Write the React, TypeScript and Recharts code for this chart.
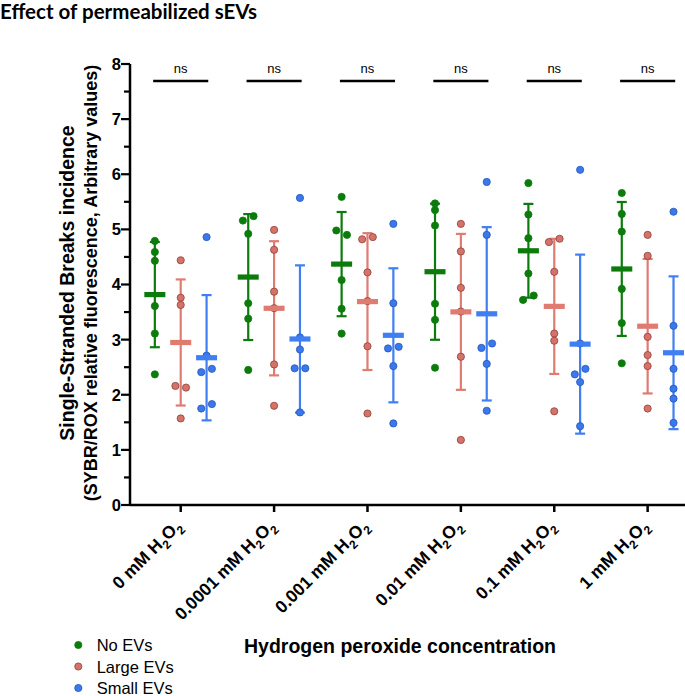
import { ComposedChart, Scatter, XAxis, YAxis, ErrorBar, ReferenceLine } from 'recharts';

// H2O2 doses (mM), one group per dose
const doses = ['0', '0.0001', '0.001', '0.01', '0.1', '1'];

// replicate values per dose
const noEVs = [
  [4.79, 4.59, 4.43, 3.61, 3.11, 2.37],
  [5.16, 5.24, 4.92, 3.66, 3.38, 2.45],
  [5.59, 4.98, 4.9, 4.08, 3.56, 3.11],
  [5.47, 5.35, 5.07, 3.65, 3.36, 2.49],
  [5.84, 5.27, 4.84, 4.2, 3.72, 3.8],
  [5.66, 5.28, 4.96, 3.92, 3.3, 2.57],
];
const largeEVs = [
  [4.44, 3.76, 3.63, 2.16, 2.13, 1.57],
  [4.99, 4.63, 3.87, 3.57, 2.55, 1.8],
  [4.82, 4.86, 4.22, 3.7, 2.88, 1.66],
  [5.1, 4.6, 3.94, 3.51, 2.69, 1.18],
  [4.77, 4.83, 4.23, 3.11, 2.98, 1.7],
  [4.9, 4.52, 3.05, 2.72, 2.52, 1.75],
];
const smallEVs = [
  [4.86, 2.71, 2.41, 2.47, 1.75, 1.83],
  [5.57, 3.04, 2.82, 2.48, 2.48, 1.68],
  [5.1, 3.66, 2.84, 2.87, 2.52, 1.48],
  [5.86, 4.9, 2.85, 2.93, 2.56, 1.71],
  [6.08, 2.93, 2.37, 2.47, 2.23, 1.43],
  [5.32, 3.25, 2.47, 2.11, 1.93, 1.49],
];

const yTicks = [0, 0.5, 1, 1.5, 2, 2.5, 3, 3.5, 4, 4.5, 5, 5.5, 6, 6.5, 7, 7.5, 8];
const nsLevel = 7.69;
const nsTextLevel = 7.84;

const FONT = '"Liberation Sans", Arial, sans-serif';

const series = [
  { name: 'No EVs', values: noEVs, shift: -0.277, color: '#0b7b0b', dot: '#0b7b0b', edge: '#0b7b0b' },
  { name: 'Large EVs', values: largeEVs, shift: 0, color: '#e07b72', dot: '#d5736a', edge: '#8e4039' },
  { name: 'Small EVs', values: smallEVs, shift: 0.277, color: '#3f7ff2', dot: '#3a78ee', edge: '#2656b8' },
];

// side-by-side offsets for dots that would overlap
function spread(vals: number[]) {
  const order = vals.map((v, i) => i).sort((a, b) => vals[a] - vals[b]);
  const offs = new Array(vals.length).fill(0) as number[];
  let cluster: number[] = [order[0]];
  const flush = () => {
    const c = [...cluster].sort((a, b) => a - b);
    c.forEach((idx, j) => {
      offs[idx] = (j - (c.length - 1) / 2) * 0.114;
    });
  };
  for (let k = 1; k < order.length; k++) {
    if (Math.abs(vals[order[k]] - vals[order[k - 1]]) < 0.11) cluster.push(order[k]);
    else {
      flush();
      cluster = [order[k]];
    }
  }
  flush();
  return offs;
}

const mean = (a: number[]) => a.reduce((s, v) => s + v, 0) / a.length;
const sd = (a: number[]) => {
  const m = mean(a);
  return Math.sqrt(a.reduce((s, v) => s + (v - m) ** 2, 0) / (a.length - 1));
};

const built = series.map((s) => ({
  ...s,
  points: s.values.flatMap((vals, i) => {
    const offs = spread(vals);
    return vals.map((v, j) => ({ x: i + s.shift + offs[j], y: v }));
  }),
  stats: s.values.map((vals, i) => ({ x: i + s.shift, y: mean(vals), sd: sd(vals) })),
}));

const nsMarks = doses.map((_, i) => ({ x: i, y: nsTextLevel }));

function XTick(props: any) {
  const { x, y, payload } = props;
  const dose = doses[payload.value];
  return (
    <text
      transform={`translate(${x + 2},${y + 15}) rotate(-45)`}
      textAnchor="end"
      fontFamily={FONT}
      fontWeight="bold"
      fontSize={17.5}
      fill="#000"
    >
      {`${dose} mM H`}
      <tspan dy={5} fontSize={12}>2</tspan>
      <tspan dy={-5}>O</tspan>
      <tspan dy={5} fontSize={12}>2</tspan>
    </text>
  );
}

function YTick(props: any) {
  const { x, y, payload } = props;
  const v = payload.value as number;
  const major = Number.isInteger(v);
  return (
    <g>
      <line x1={x} x2={x - (major ? 9 : 6)} y1={y} y2={y} stroke="#000" strokeWidth={2.2} />
      {major && (
        <text x={x - 9} y={y} dy="0.36em" textAnchor="end" fontFamily={FONT} fontWeight="bold" fontSize={16.5} fill="#000">
          {v}
        </text>
      )}
    </g>
  );
}

export default function App() {
  return (
    <div style={{ position: 'absolute', left: 0, top: 0, width: 685, height: 696, background: '#fff' }}>
      <ComposedChart width={685} height={696} margin={{ top: 64, right: 0, bottom: 91, left: 0 }}>
        <XAxis
          type="number"
          dataKey="x"
          domain={[-0.543, 5.4]}
          allowDataOverflow
          ticks={[0, 1, 2, 3, 4, 5]}
          interval={0}
          height={100}
          tickSize={7}
          tickMargin={0}
          tickLine={{ stroke: '#000', strokeWidth: 2.5 }}
          axisLine={{ stroke: '#000', strokeWidth: 2.5 }}
          tick={<XTick />}
        />
        <YAxis
          type="number"
          dataKey="y"
          domain={[0, 8]}
          allowDataOverflow
          ticks={yTicks}
          interval={0}
          width={130}
          tickSize={0}
          tickMargin={0}
          tickLine={false}
          axisLine={{ stroke: '#000', strokeWidth: 2.5 }}
          tick={<YTick />}
        />
        {doses.map((_, i) => (
          <ReferenceLine
            key={i}
            segment={[
              { x: i - 0.295, y: nsLevel },
              { x: i + 0.295, y: nsLevel },
            ]}
            stroke="#000"
            strokeWidth={2.5}
          />
        ))}
        <Scatter
          data={nsMarks}
          isAnimationActive={false}
          shape={(p: any) => (
            <text x={p.cx} y={p.cy} textAnchor="middle" fontFamily={FONT} fontSize={13} fill="#000">
              ns
            </text>
          )}
        />
        {built.map((s) => (
          <Scatter
            key={s.name + '-pts'}
            name={s.name}
            data={s.points}
            isAnimationActive={false}
            shape={(p: any) => (
              <circle cx={p.cx} cy={p.cy} r={3.6} fill={s.dot} stroke={s.edge} strokeWidth={0.8} />
            )}
          />
        ))}
        {built.map((s) => (
          <Scatter
            key={s.name + '-mean'}
            data={s.stats}
            isAnimationActive={false}
            shape={(p: any) => (
              <rect x={p.cx - 10.5} y={p.cy - 2.6} width={21} height={5.2} fill={s.color} />
            )}
          >
            <ErrorBar dataKey="sd" direction="y" width={5} stroke={s.color} strokeWidth={2.2} />
          </Scatter>
        ))}
      </ComposedChart>
      <svg width={685} height={696} style={{ position: 'absolute', left: 0, top: 0, pointerEvents: 'none' }}>
        <text x={0} y={18.5} fontFamily="Lato, sans-serif" fontWeight={700} fontSize={20.5} fill="#000">
          Effect of permeabilized sEVs
        </text>
        <text transform="translate(74,283) rotate(-90)" textAnchor="middle" fontFamily={FONT} fontWeight="bold" fontSize={19.5} fill="#000">
          Single-Stranded Breaks incidence
        </text>
        <text transform="translate(97,283) rotate(-90)" textAnchor="middle" fontFamily={FONT} fontWeight="bold" fontSize={18} fill="#000">
          (SYBR/ROX relative fluorescence, Arbitrary values)
        </text>
        <text x={400} y={653} textAnchor="middle" fontFamily={FONT} fontWeight="bold" fontSize={19.5} fill="#000">
          Hydrogen peroxide concentration
        </text>
        {series.map((s, k) => (
          <g key={s.name}>
            <circle cx={78.3} cy={645 + k * 21.5} r={3.6} fill={s.dot} stroke={s.edge} strokeWidth={0.8} />
            <text x={96.7} y={651 + k * 21.5} fontFamily={FONT} fontSize={16.5} fill="#000">
              {s.name}
            </text>
          </g>
        ))}
      </svg>
    </div>
  );
}
